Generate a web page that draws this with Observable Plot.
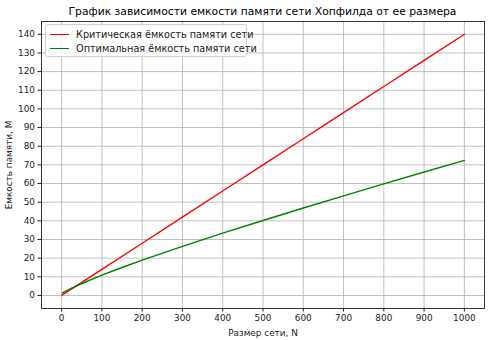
<!DOCTYPE html>
<html><head><meta charset="utf-8">
<script src="https://cdn.jsdelivr.net/npm/d3@7"></script>
<script src="https://cdn.jsdelivr.net/npm/@observablehq/plot@0.6"></script>
<style>
body{margin:0;background:#fff;font-family:"DejaVu Sans",sans-serif;}
#wrap{position:relative;width:491px;height:340px;}
#title{height:20px;line-height:24px;text-align:center;font-size:10.75px;color:#000;padding-left:34px;box-sizing:border-box;white-space:nowrap;}
#legend{position:absolute;left:45px;top:24px;width:202px;height:33px;border:1px solid #d0d0d0;border-radius:3px;background:rgba(255,255,255,0.8);font-size:9.7px;color:#222;box-sizing:border-box;}
.row{position:absolute;left:4px;height:12px;display:flex;align-items:center;white-space:nowrap;}
.sw{width:19px;height:0;border-top:1.5px solid;margin-right:7px;}
</style></head>
<body><div id="wrap"><div id="title"></div><div id="chart"></div><div id="legend"></div></div>
<script>
const title = "График зависимости емкости памяти сети Хопфилда от ее размера";
const seriesNames = ["Критическая ёмкость памяти сети", "Оптимальная ёмкость памяти сети"];
const seriesColors = ["red", "green"];
const criticalN = [1, 100, 200, 300, 400, 500, 600, 700, 800, 900, 1000];
const criticalM = [0.14, 14, 28, 42, 56, 70, 84, 98, 112, 126, 140];
const optimalN = [2, 25, 50, 100, 150, 200, 300, 400, 500, 600, 700, 800, 900, 1000];
const optimalM = [1.4, 3.9, 6.4, 10.9, 15.0, 18.9, 26.3, 33.4, 40.2, 46.9, 53.4, 59.8, 66.2, 72.4];
const xTicks = [0, 100, 200, 300, 400, 500, 600, 700, 800, 900, 1000];
const yTicks = [0, 10, 20, 30, 40, 50, 60, 70, 80, 90, 100, 110, 120, 130, 140];
const xLabel = "Размер сети, N";
const yLabel = "Емкость памяти, M";

document.getElementById("title").textContent = title;

const data = [
  ...criticalN.map((n, i) => ({N: n, M: criticalM[i], s: seriesNames[0]})),
  ...optimalN.map((n, i) => ({N: n, M: optimalM[i], s: seriesNames[1]}))
];

const fmt = d => String(d);
const chart = Plot.plot({
  width: 491, height: 320,
  marginLeft: 41, marginRight: 7, marginTop: 1, marginBottom: 32,
  style: {fontFamily: "DejaVu Sans", fontSize: "8.9px", color: "#222", background: "#fff"},
  x: {domain: [-49.95, 1049.95]},
  y: {domain: [-6.993, 146.853]},
  color: {domain: seriesNames, range: seriesColors},
  marks: [
    Plot.ruleX(xTicks, {stroke: "#b0b0b0", strokeWidth: 0.8}),
    Plot.ruleY(yTicks, {stroke: "#b0b0b0", strokeWidth: 0.8}),
    Plot.line(data, {x: "N", y: "M", z: "s", stroke: "s", strokeWidth: 1.4}),
    Plot.axisX({ticks: xTicks, tickFormat: fmt, tickSize: 3.5, tickPadding: 3, label: xLabel, labelAnchor: "center", labelOffset: 27, labelArrow: "none", fill: "#222", stroke: "#222"}),
    Plot.axisY({ticks: yTicks, tickFormat: fmt, tickSize: 3.5, tickPadding: 3, label: yLabel, labelAnchor: "center", labelOffset: 36, labelArrow: "none", fill: "#222", stroke: "#222"}),
    Plot.frame({stroke: "#222", strokeWidth: 0.9})
  ]
});
document.getElementById("chart").appendChild(chart);

const legend = document.getElementById("legend");
seriesNames.forEach((name, i) => {
  const row = document.createElement("div");
  row.className = "row";
  row.style.top = (3 + i * 14) + "px";
  const sw = document.createElement("span");
  sw.className = "sw";
  sw.style.borderTopColor = seriesColors[i];
  row.appendChild(sw);
  const t = document.createElement("span");
  t.textContent = name;
  row.appendChild(t);
  legend.appendChild(row);
});
</script></body></html>
